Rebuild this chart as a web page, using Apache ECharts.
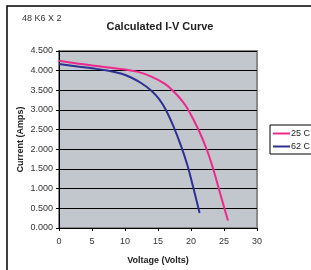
<!DOCTYPE html>
<html>
<head>
<meta charset="utf-8">
<script src="https://cdn.jsdelivr.net/npm/echarts@6/dist/echarts.min.js"></script>
<style>
  html, body { margin: 0; padding: 0; background: #fff; }
  #chart { width: 311px; height: 270px; }
</style>
</head>
<body>
<div id="chart"></div>
<script>
// 读图估计的 I-V 曲线数据点 (电压 V, 电流 A)
const volts25 = [0, 2.5, 5, 7.5, 10, 12, 14, 16, 17.5, 18.8, 19.6, 21.1, 22.4, 23.4, 24.4, 25.6]
const amps25 = [4.25, 4.19, 4.13, 4.08, 4.03, 3.97, 3.85, 3.67, 3.45, 3.2, 3.0, 2.51, 1.99, 1.48, 0.89, 0.19]
const volts62 = [0, 2.5, 5, 7.5, 9.5, 11, 12.5, 14, 15.2, 16.2, 17.3, 18.5, 19.5, 20.3, 21.3]
const amps62 = [4.17, 4.11, 4.06, 4.0, 3.92, 3.82, 3.68, 3.49, 3.27, 3.0, 2.6, 2.08, 1.57, 1.06, 0.38]
const seriesNames = ['25 C', '62 C']

const zip = (xs, ys) => xs.map((x, i) => [x, ys[i]])
const font = 'Arial, "Liberation Sans", sans-serif'

const chart = echarts.init(document.getElementById('chart'))
chart.setOption({
  animation: false,
  backgroundColor: '#fff',
  textStyle: { fontFamily: font },
  title: [
    { text: 'Calculated I-V Curve', left: 155, top: 16, textAlign: 'center',
      textStyle: { fontSize: 11, fontWeight: 'bold', color: '#222', fontFamily: font } },
    { text: '48 K6 X 2', left: 17, top: 9,
      textStyle: { fontSize: 9, fontWeight: 'normal', color: '#333', fontFamily: font } }
  ],
  graphic: [
    { type: 'polyline', shape: { points: [[7, 270], [7, 6], [311, 6]] },
      style: { stroke: '#000', lineWidth: 1.5, fill: null } }
  ],
  legend: {
    data: seriesNames,
    orient: 'vertical',
    left: 270, top: 125,
    borderColor: '#000', borderWidth: 1,
    padding: [4, 20, 3, 3],
    itemGap: 4,
    itemWidth: 17, itemHeight: 2,
    icon: 'rect',
    textStyle: { fontSize: 9, color: '#222', padding: [0, 0, 0, -4] }
  },
  grid: {
    left: 59, right: 54, top: 51, bottom: 42,
    show: true, backgroundColor: '#C2C6CD',
    borderColor: '#8a8a8a', borderWidth: 2
  },
  xAxis: {
    type: 'value', min: 0, max: 30, interval: 5,
    name: 'Voltage (Volts)', nameLocation: 'middle', nameGap: 28,
    nameTextStyle: { fontSize: 9, fontWeight: 'bold', color: '#222' },
    axisLine: { onZero: false, lineStyle: { color: '#000', width: 1 } },
    axisTick: { show: true, length: 3, lineStyle: { color: '#000' } },
    axisLabel: { fontSize: 9, color: '#333', margin: 9 },
    splitLine: { show: false }
  },
  yAxis: {
    type: 'value', min: 0, max: 4.5, interval: 0.5,
    name: 'Current (Amps)', nameLocation: 'middle', nameGap: 34, nameMoveOverlap: false,
    nameTextStyle: { fontSize: 9, fontWeight: 'bold', color: '#222' },
    axisLine: { show: true, lineStyle: { color: '#000', width: 1 } },
    axisTick: { show: true, length: 3, lineStyle: { color: '#000' } },
    axisLabel: { fontSize: 9, color: '#333', margin: 6, formatter: v => v.toFixed(3) },
    splitLine: { show: true, lineStyle: { color: '#000', width: 1 } }
  },
  series: [
    { name: seriesNames[0], type: 'line', smooth: 0.4, showSymbol: false,
      data: zip(volts25, amps25), color: '#EC2A8C',
      lineStyle: { width: 2, color: '#EC2A8C' } },
    { name: seriesNames[1], type: 'line', smooth: 0.4, showSymbol: false,
      data: zip(volts62, amps62), color: '#2E3192',
      lineStyle: { width: 2, color: '#2E3192' } }
  ]
})
</script>
</body>
</html>
